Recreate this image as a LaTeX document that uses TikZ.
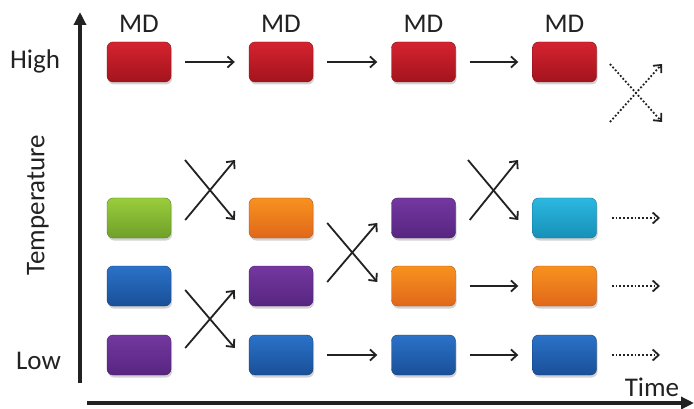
\documentclass[tikz,border=0pt]{standalone}
\usepackage{fontspec}
\setmainfont{Carlito}
\usetikzlibrary{arrows.meta,shadows}
\definecolor{redA}{HTML}{D42330}\definecolor{redB}{HTML}{A3141C}
\definecolor{grnA}{HTML}{9ACD3C}\definecolor{grnB}{HTML}{6FA02A}
\definecolor{orgA}{HTML}{F8911F}\definecolor{orgB}{HTML}{E0681A}
\definecolor{purA}{HTML}{7438A0}\definecolor{purB}{HTML}{572580}
\definecolor{bluA}{HTML}{2A72C8}\definecolor{bluB}{HTML}{1A4F98}
\definecolor{cyaA}{HTML}{2CB8E0}\definecolor{cyaB}{HTML}{1690B8}
\definecolor{ink}{HTML}{222222}
\tikzset{
  box/.style={rounded corners=6pt, minimum width=64pt, minimum height=40pt,
    inner sep=0pt, drop shadow={shadow xshift=1pt, shadow yshift=-2.5pt, opacity=0.35}},
  redbox/.style={box, top color=redA, bottom color=redB, draw=redB!80!black, line width=0.4pt},
  grnbox/.style={box, top color=grnA, bottom color=grnB, draw=grnB!80!black, line width=0.4pt},
  orgbox/.style={box, top color=orgA, bottom color=orgB, draw=orgB!80!black, line width=0.4pt},
  purbox/.style={box, top color=purA, bottom color=purB, draw=purB!80!black, line width=0.4pt},
  blubox/.style={box, top color=bluA, bottom color=bluB, draw=bluB!80!black, line width=0.4pt},
  cyabox/.style={box, top color=cyaA, bottom color=cyaB, draw=cyaB!80!black, line width=0.4pt},
  conn/.style={draw=ink, line width=1.8pt, -{Straight Barb[length=6pt,width=11pt,line width=1.8pt]}},
  dotconn/.style={conn, dotted},
  axis/.style={draw=ink, line width=3.4pt, -{Triangle[length=13pt,width=12pt]}},
  lbl/.style={font=\fontsize{27}{30}\selectfont, text=ink, inner sep=0pt},
}
\begin{document}
\begin{tikzpicture}[x=1pt,y=-1pt]
\useasboundingbox[fill=white] (0,0) rectangle (694,409);
% axes
\coordinate (ybot) at (80,383);
\coordinate (ytop) at (80,12);
\coordinate (xl) at (87,403);
\coordinate (xr) at (694,403);
\draw[axis] (ybot) -- (ytop);
\draw[axis] (xl) -- (xr);
% labels
\node[lbl] (high) at (35,61) {High};
\node[lbl] (low) at (38.5,361) {Low};
\node[lbl, rotate=90] (temp) at (38,205) {Temperature};
\node[lbl] (time) at (652,387) {Time};
% boxes
\foreach \i/\x in {1/139,2/281,3/423.5,4/564.5}{
  \node[redbox] (r\i) at (\x,62) {};
  \node[lbl] (md\i) at (\x,24) {MD};
}
\node[grnbox] (a1) at (139,218) {};
\node[blubox] (b1) at (139,286) {};
\node[purbox] (c1) at (139,355) {};
\node[orgbox] (a2) at (281,218) {};
\node[purbox] (b2) at (281,286) {};
\node[blubox] (c2) at (281,355) {};
\node[purbox] (a3) at (423.5,218) {};
\node[orgbox] (b3) at (423.5,286) {};
\node[blubox] (c3) at (423.5,355) {};
\node[cyabox] (a4) at (564.5,218) {};
\node[orgbox] (b4) at (564.5,286) {};
\node[blubox] (c4) at (564.5,355) {};
% high row arrows
\draw[conn] ([xshift=14pt]r1.east) -- ([xshift=-14pt]r2.west);
\draw[conn] ([xshift=14pt]r2.east) -- ([xshift=-14pt]r3.west);
\draw[conn] ([xshift=14pt]r3.east) -- ([xshift=-14pt]r4.west);
% dotted cross after high row
\coordinate (h1) at (610,64);
\coordinate (h2) at (662,122);
\coordinate (h3) at (610,122);
\coordinate (h4) at (662,64);
\draw[dotconn] (h1) -- (h2);
\draw[dotconn] (h3) -- (h4);
% cross 1 (col1 -> col2, top)
\coordinate (u1) at (185,160);
\coordinate (u2) at (235,160);
\draw[conn] (u1) -- ([xshift=-14pt,yshift=-2pt]a2.west);
\draw[conn] ([xshift=14pt,yshift=-2pt]a1.east) -- (u2);
% cross 2 (col1 -> col2, rows b,c)
\draw[conn] ([xshift=14pt,yshift=-4pt]b1.east) -- ([xshift=-14pt,yshift=7pt]c2.west);
\draw[conn] ([xshift=14pt,yshift=7pt]c1.east) -- ([xshift=-14pt,yshift=-4pt]b2.west);
% cross 3 (col2 -> col3, rows a,b)
\draw[conn] ([xshift=14pt,yshift=-5pt]a2.east) -- ([xshift=-14pt,yshift=4pt]b3.west);
\draw[conn] ([xshift=14pt,yshift=4pt]b2.east) -- ([xshift=-14pt,yshift=-5pt]a3.west);
% cross 4 (col3 -> col4, top)
\coordinate (u3) at (468,160);
\coordinate (u4) at (518,160);
\draw[conn] (u3) -- ([xshift=-14pt,yshift=-2pt]a4.west);
\draw[conn] ([xshift=14pt,yshift=-2pt]a3.east) -- (u4);
% straight arrows
\draw[conn] ([xshift=14pt]c2.east) -- ([xshift=-14pt]c3.west);
\draw[conn] ([xshift=14pt]c3.east) -- ([xshift=-14pt]c4.west);
\draw[conn] ([xshift=14pt]b3.east) -- ([xshift=-14pt]b4.west);
% dotted arrows
\coordinate (d1) at (660,218);
\coordinate (d2) at (660,286);
\coordinate (d3) at (660,355);
\draw[dotconn] ([xshift=15pt]a4.east) -- (d1);
\draw[dotconn] ([xshift=15pt]b4.east) -- (d2);
\draw[dotconn] ([xshift=15pt]c4.east) -- (d3);
\end{tikzpicture}
\end{document}
